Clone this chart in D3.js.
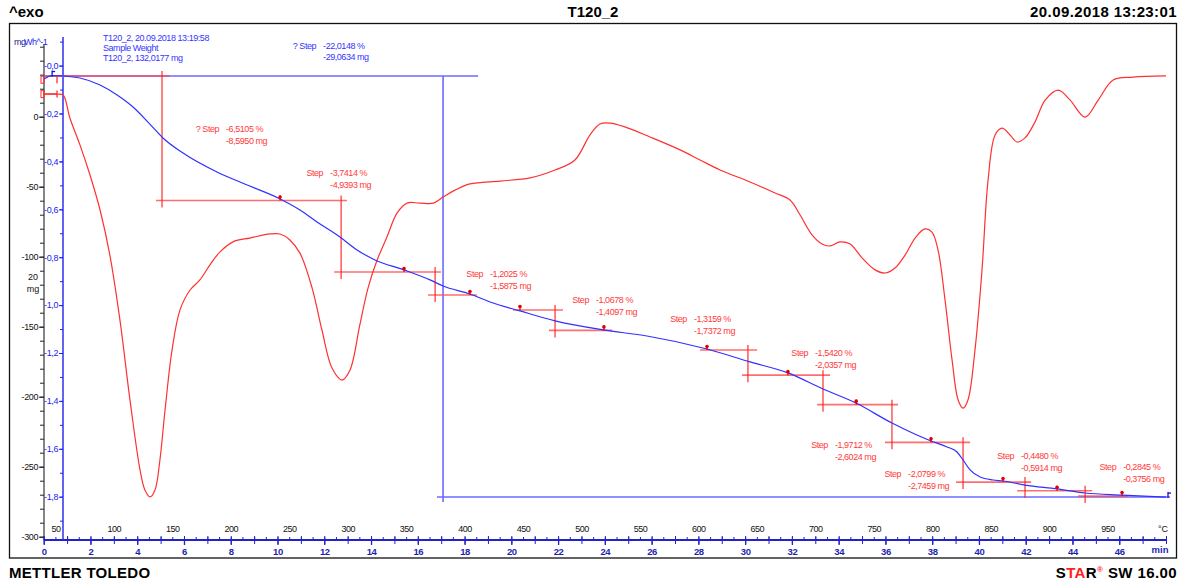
<!DOCTYPE html>
<html>
<head>
<meta charset="utf-8">
<script src="https://cdn.jsdelivr.net/npm/d3@7"></script>
<style>
  body { margin: 0; background: #fff; }
  svg text { font-family: "Liberation Sans Narrow", "Liberation Sans", Arial, sans-serif; }
  .hdr { font-family: "Liberation Sans", Arial, sans-serif !important; font-weight: bold; font-size: 15px; }
</style>
</head>
<body>
<svg id="chart" width="1185" height="585"></svg>
<script>
// ---- TGA curve: time (min) vs sample mass (mg)
const tgaTime = [0, 0.36, 0.83, 1.55, 2.41, 3.14, 3.82, 4.54, 5.10, 5.96, 7.41, 8.82, 10.11, 10.96, 11.69,
  12.67, 13.40, 14.17, 15.41, 16.52, 17.08, 18.23, 19.09, 20.37, 21.87, 23.92, 25.80, 28.37, 30.21, 31.83,
  33.33, 34.74, 36.28, 37.95, 38.64, 39.06, 39.32, 39.62, 40.05, 40.60, 41.03, 41.97, 43.34, 44.54, 46.12, 48.0];
const tgaMass = [131.81, 132.05, 132.02, 131.88, 131.40, 130.71, 129.88, 128.70, 127.74, 126.70, 125.39, 124.42,
  123.53, 122.77, 121.94, 120.90, 120.01, 119.32, 118.63, 117.94, 117.52, 116.97, 116.42, 115.80, 115.11, 114.49,
  114.07, 113.17, 112.28, 111.52, 110.41, 109.44, 108.06, 106.82, 106.41, 106.06, 105.51, 104.82, 104.33, 104.13,
  104.06, 103.78, 103.51, 103.23, 103.09, 102.95];

// ---- DSC curve: time (min) vs heat flow (W/g)
const dscTime = [0, 0.57, 0.83, 1.12, 1.55, 1.98, 2.41, 2.83, 3.26, 3.69, 4.12, 4.33, 4.55, 4.76, 4.97, 5.19,
  5.49, 5.83, 6.26, 6.68, 7.11, 7.54, 8.18, 8.82, 9.68, 10.11, 10.53, 10.96, 11.48, 11.90, 12.33, 12.76, 13.10,
  13.52, 13.87, 14.26, 14.68, 15.11, 15.54, 16.09, 16.67, 17.08, 17.59, 18.23, 19.52, 20.80, 21.87, 22.72, 23.36,
  23.79, 24.22, 24.86, 25.93, 27.22, 28.07, 28.93, 30.21, 31.28, 31.92, 32.35, 32.86, 33.29, 33.63, 34.06, 34.49,
  35.00, 35.56, 35.98, 36.41, 36.84, 37.27, 37.69, 37.99, 38.25, 38.55, 38.85, 39.11, 39.32, 39.53, 39.83, 40.13,
  40.39, 40.69, 40.99, 41.33, 41.63, 41.97, 42.40, 42.83, 43.39, 43.90, 44.54, 45.10, 45.74, 46.59, 48.0];
const dscHeatFlow = [-0.119, -0.119, -0.123, -0.219, -0.331, -0.457, -0.603, -0.791, -1.062, -1.396, -1.688,
  -1.772, -1.801, -1.772, -1.647, -1.438, -1.187, -1.020, -0.937, -0.895, -0.832, -0.778, -0.732, -0.720, -0.703,
  -0.703, -0.728, -0.783, -0.929, -1.104, -1.263, -1.313, -1.271, -1.083, -0.929, -0.812, -0.716, -0.616, -0.574,
  -0.574, -0.574, -0.549, -0.520, -0.494, -0.482, -0.469, -0.436, -0.394, -0.290, -0.244, -0.240, -0.256, -0.298,
  -0.352, -0.394, -0.436, -0.486, -0.532, -0.561, -0.624, -0.707, -0.745, -0.753, -0.736, -0.745, -0.803, -0.853,
  -0.866, -0.845, -0.791, -0.720, -0.682, -0.695, -0.770, -0.979, -1.229, -1.396, -1.430, -1.396, -1.188, -0.854,
  -0.478, -0.290, -0.261, -0.290, -0.319, -0.302, -0.235, -0.144, -0.102, -0.144, -0.215, -0.144, -0.060, -0.048, -0.043];

// ---- step evaluations on the TGA curve
const stepPercent = ["-6,5105 %", "-3,7414 %", "-1,2025 %", "-1,0678 %", "-1,3159 %", "-1,5420 %", "-1,9712 %", "-2,0799 %", "-0,4480 %", "-0,2845 %"];
const stepMgText  = ["-8,5950 mg", "-4,9393 mg", "-1,5875 mg", "-1,4097 mg", "-1,7372 mg", "-2,0357 mg", "-2,6024 mg", "-2,7459 mg", "-0,5914 mg", "-0,3756 mg"];
const stepName    = ["? Step", "Step", "Step", "Step", "Step", "Step", "Step", "Step", "Step", "Step"];
const stepLossMg  = [8.5950, 4.9393, 1.5875, 1.4097, 1.7372, 2.0357, 2.6024, 2.7459, 0.5914, 0.3756];
const stepLevelMg = [132.0177, 123.4227, 118.4834, 115.864, 113.103, 111.3658, 109.3301, 106.7277, 103.9818, 103.3904];
const stepMidTime = [5.06, 12.72, 16.74, 21.87, 30.12, 33.33, 36.28, 39.32, 41.97, 44.54];
const stepBeforeSpan = [[0, 5.40], null, null, [20.07, 22.21], [28.07, 30.51], null, null, null, null, null];
const stepAfterSpan  = [[4.80, 12.97], [12.42, 16.99], [16.44, 18.53], [21.61, 24.31], [29.87, 33.63],
  [33.08, 36.54], [35.98, 39.62], [39.02, 42.23], [41.63, 44.84], [44.24, 46.38]];
const stepLabelTime = [7.80, 12.25, 19.09, 23.62, 27.81, 32.99, 33.84, 36.97, 41.80, 46.17];
const stepLabelMass = [128.36, 125.32, 118.35, 116.55, 115.24, 112.90, 106.55, 104.54, 105.79, 105.03];
const markerTime = [10.11, 15.41, 18.23, 20.37, 23.96, 28.37, 31.83, 34.75, 37.95, 41.03, 43.34, 46.12];
const markerMass = [123.4227, 118.4834, 116.8959, 115.864, 114.4543, 113.103, 111.3658, 109.3301, 106.7277, 103.9818, 103.3904, 103.0148];

// ---- overall step (blue)
const totalStep = { start: 132.0177, end: 102.9543, mid: 17.08, upper: [0, 18.58], lower: [16.82, 48.17],
  name: "? Step", percent: "-22,0148 %", mg: "-29,0634 mg", labelTime: 11.95, labelMass: 134.09 };

// ---- axis tick labels
const timeTicks = d3.range(0, 47, 2);
const tempTicks = d3.range(50, 1000, 50);
const mgTicks = d3.range(0, -301, -50);
const wgTicks = d3.range(0, -1.81, -0.2).map(v => +v.toFixed(1));

const RED = "#ff2a2a", BLUE = "#3030ff", LBLUE = "#6b6bff";
const svg = d3.select("#chart");

// scales
const x = d3.scaleLinear().domain([0, 48]).range([43.7, 1166]);
const xTemp = d3.scaleLinear().domain([40, 1000]).range(x.range());
const yMass = d3.scaleLinear().domain([132.0177, 102.9543]).range([76, 497]);
const yDsc = d3.scaleLinear().domain([0, -1.8]).range([65.6, 496.7]);
const yMg = d3.scaleLinear().domain([0, -300]).range([116.7, 536.7]);
const AXY = 540;

// header and footer
svg.append("text").attr("class", "hdr").attr("x", 9).attr("y", 17).text("^exo");
svg.append("text").attr("class", "hdr").attr("x", 593).attr("y", 17).attr("text-anchor", "middle").text("T120_2");
svg.append("text").attr("class", "hdr").attr("x", 1177).attr("y", 17).attr("text-anchor", "end").attr("letter-spacing", "0.4").text("20.09.2018 13:23:01");
svg.append("text").attr("class", "hdr").attr("x", 9).attr("y", 578).attr("letter-spacing", "0.3").text("METTLER TOLEDO");
const star = svg.append("text").attr("class", "hdr").attr("x", 1177).attr("y", 578).attr("text-anchor", "end").attr("letter-spacing", "0.4");
star.append("tspan").text("S");
star.append("tspan").attr("fill", "#ff2020").text("TA");
star.append("tspan").text("R");
star.append("tspan").attr("fill", "#ff2020").attr("font-size", "8px").attr("dy", "-6").text("®");
star.append("tspan").attr("dy", "6").text(" SW 16.00");

// frame
svg.append("rect").attr("x", 9.5).attr("y", 23.5).attr("width", 1167).attr("height", 534.5)
  .attr("fill", "none").attr("stroke", "#111").attr("stroke-width", 1.3);

// draws one axis call into its own group
function axisGroup(tx, ty, axis, color) {
  const g = svg.append("g").attr("transform", `translate(${tx},${ty})`).call(axis);
  g.selectAll("line").attr("stroke", color);
  g.select(".domain").remove();
  return g;
}

// black mg axis
svg.append("line").attr("x1", 44).attr("x2", 44).attr("y1", 44).attr("y2", AXY).attr("stroke", "#222").attr("stroke-width", 1.1);
axisGroup(44, 0, d3.axisLeft(yMg).tickValues(d3.range(50, -301, -10)).tickSize(4).tickFormat(""), "#222");
const gMg = axisGroup(44, 0, d3.axisLeft(yMg).tickValues(mgTicks).tickSize(5).tickPadding(1).tickFormat(d => String(d)), "#222");
gMg.selectAll("text").attr("font-size", 9).attr("fill", "#111").attr("letter-spacing", "-0.4");
svg.append("text").attr("x", 33).attr("y", 280).attr("text-anchor", "middle").attr("font-size", 9).attr("fill", "#111").text("20");
svg.append("text").attr("x", 33).attr("y", 292).attr("text-anchor", "middle").attr("font-size", 9).attr("fill", "#111").text("mg");

// blue W/g axis
svg.append("line").attr("x1", 63).attr("x2", 63).attr("y1", 37).attr("y2", AXY).attr("stroke", "#2222ee").attr("stroke-width", 1.4);
axisGroup(63, 0, d3.axisLeft(yDsc).tickValues(d3.range(0.1, -1.91, -0.1).map(v => +v.toFixed(1))).tickSize(3).tickFormat(""), "#2222ee");
const gW = axisGroup(63, 0, d3.axisLeft(yDsc).tickValues(wgTicks).tickSize(4).tickPadding(1)
  .tickFormat(d => "-" + Math.abs(d).toFixed(1).replace(".", ",")), "#2222ee");
gW.selectAll("text").attr("font-size", 9).attr("fill", "#2222ee").attr("letter-spacing", "-0.4");
svg.append("text").attr("x", 14).attr("y", 45).attr("font-size", 9).attr("fill", "#20209a").attr("letter-spacing", "-0.5").text("mg");
svg.append("text").attr("x", 24).attr("y", 45).attr("font-size", 9).attr("fill", "#2a2aee").attr("letter-spacing", "-0.5").text("Wh^-1");

// time axis with temperature labels above
svg.append("line").attr("x1", x(0)).attr("x2", x(48)).attr("y1", AXY).attr("y2", AXY).attr("stroke", "#2323c8").attr("stroke-width", 2);
axisGroup(0, AXY, d3.axisTop(x).tickValues(d3.range(0, 48.01, 0.5)).tickSize(3).tickFormat(""), "#2323c8");
axisGroup(0, AXY, d3.axisTop(x).tickValues(d3.range(0, 48.01, 1)).tickSize(4).tickFormat(""), "#2323c8");
axisGroup(0, AXY, d3.axisBottom(x).tickValues(d3.range(0, 48.01, 1)).tickSize(4).tickFormat(""), "#2323c8");
const gX = axisGroup(0, AXY, d3.axisBottom(x).tickValues(timeTicks).tickSize(5).tickPadding(3).tickFormat(d => d), "#2323c8");
gX.selectAll("line").attr("stroke-width", 1.3);
gX.selectAll("text").attr("font-size", 9.5).attr("font-weight", "bold").attr("fill", "#1f1fb0").attr("letter-spacing", "-0.4");
const gTemp = svg.append("g").attr("transform", `translate(0,${AXY})`)
  .call(d3.axisTop(xTemp).tickValues(tempTicks).tickSize(0).tickPadding(8).tickFormat(d => d));
gTemp.select(".domain").remove();
gTemp.selectAll("text").attr("font-size", 9).attr("fill", "#111").attr("letter-spacing", "-0.5");
svg.append("text").attr("x", 1163).attr("y", 532).attr("text-anchor", "middle").attr("font-size", 9).attr("fill", "#111").text("°C");
svg.append("text").attr("x", 1160).attr("y", 553).attr("text-anchor", "middle").attr("font-size", 9.5).attr("font-weight", "bold").attr("fill", "#1f1fb0").text("min");

// overall step construction (blue)
const gTot = svg.append("g").attr("stroke", LBLUE).attr("stroke-width", 1.6).attr("fill", "none");
gTot.append("line").attr("x1", x(totalStep.upper[0])).attr("x2", x(totalStep.upper[1]))
  .attr("y1", yMass(totalStep.start)).attr("y2", yMass(totalStep.start));
gTot.append("line").attr("x1", x(totalStep.lower[0])).attr("x2", x(totalStep.lower[1]))
  .attr("y1", yMass(totalStep.end)).attr("y2", yMass(totalStep.end));
gTot.append("line").attr("x1", x(totalStep.mid)).attr("x2", x(totalStep.mid))
  .attr("y1", yMass(totalStep.start)).attr("y2", yMass(totalStep.end) + 5);

// step constructions (red)
const gSteps = svg.append("g");
stepLossMg.forEach((loss, i) => {
  const before = stepLevelMg[i], after = before - loss;
  const hl = (span, m) => gSteps.append("line").attr("x1", x(span[0])).attr("x2", x(span[1]))
    .attr("y1", yMass(m)).attr("y2", yMass(m)).attr("stroke", "#ff4a4a").attr("stroke-width", 1.6).attr("stroke-opacity", 0.8);
  if (stepBeforeSpan[i]) hl(stepBeforeSpan[i], before);
  hl(stepAfterSpan[i], after);
  gSteps.append("line").attr("x1", x(stepMidTime[i])).attr("x2", x(stepMidTime[i]))
    .attr("y1", yMass(before) - 5).attr("y2", yMass(after) + 7).attr("stroke", "#ff1a1a").attr("stroke-width", 1.1);
});

// DSC curve
const lineDsc = d3.line().x((d, i) => x(dscTime[i])).y(d => yDsc(d)).curve(d3.curveCatmullRom.alpha(0.5));
svg.append("path").attr("d", lineDsc(dscHeatFlow)).attr("fill", "none").attr("stroke", "#ff3030").attr("stroke-width", 1.2);
// DSC start segment
svg.append("line").attr("x1", x(0)).attr("x2", x(0.57)).attr("y1", yDsc(-0.119)).attr("y2", yDsc(-0.119)).attr("stroke", RED).attr("stroke-width", 1.2);

// TGA curve
const lineTga = d3.line().x((d, i) => x(tgaTime[i])).y(d => yMass(d)).curve(d3.curveMonotoneX);
svg.append("path").attr("d", lineTga(tgaMass)).attr("fill", "none").attr("stroke", BLUE).attr("stroke-width", 1.2);

// small range markers at curve starts
[yMass(131.76), yDsc(-0.119)].forEach(yy => {
  svg.append("rect").attr("x", 41).attr("y", yy - 3.5).attr("width", 3).attr("height", 7).attr("fill", "none").attr("stroke", RED).attr("stroke-width", 1);
  svg.append("line").attr("x1", x(0.57)).attr("x2", x(0.57)).attr("y1", yy - 3.5).attr("y2", yy + 3.5).attr("stroke", RED).attr("stroke-width", 1.3);
});
// blue pins at TGA start and end
const pin = (px, py, col) => {
  svg.append("line").attr("x1", px).attr("x2", px).attr("y1", py).attr("y2", py - 6).attr("stroke", col).attr("stroke-width", 1.3);
  svg.append("line").attr("x1", px).attr("x2", px + 3).attr("y1", py - 5).attr("y2", py - 5).attr("stroke", col).attr("stroke-width", 1.3);
};
pin(x(0.36), yMass(132.05) + 1, "#1010cc");
pin(x(48.0) + 2, yMass(102.95) + 1, "#1010cc");

// step markers on the TGA curve
markerTime.forEach((t, i) => {
  const px = x(t), py = yMass(markerMass[i]);
  svg.append("line").attr("x1", px).attr("x2", px).attr("y1", py).attr("y2", py - 5).attr("stroke", "#e00000").attr("stroke-width", 1.2);
  svg.append("circle").attr("cx", px).attr("cy", py - 3.5).attr("r", 1.8).attr("fill", "#e00000");
});

// step labels
const gLab = svg.append("g").attr("font-size", 9).attr("fill", "#ff3a3a").attr("letter-spacing", "-0.45");
stepPercent.forEach((p, i) => {
  const lx = x(stepLabelTime[i]), ly = yMass(stepLabelMass[i]);
  gLab.append("text").attr("x", lx - 7).attr("y", ly).attr("dy", "0.35em").attr("text-anchor", "end").text(stepName[i]);
  gLab.append("text").attr("x", lx).attr("y", ly).attr("dy", "0.35em").text(p);
  gLab.append("text").attr("x", lx).attr("y", ly + 11.5).attr("dy", "0.35em").text(stepMgText[i]);
});

// overall step label and sample info (blue)
const gInfo = svg.append("g").attr("font-size", 9).attr("fill", "#3535ff").attr("letter-spacing", "-0.45");
const tx = x(totalStep.labelTime), ty = yMass(totalStep.labelMass);
gInfo.append("text").attr("x", tx - 7).attr("y", ty).attr("dy", "0.35em").attr("text-anchor", "end").text(totalStep.name);
gInfo.append("text").attr("x", tx).attr("y", ty).attr("dy", "0.35em").text(totalStep.percent);
gInfo.append("text").attr("x", tx).attr("y", ty + 11).attr("dy", "0.35em").text(totalStep.mg);
gInfo.append("text").attr("x", 103).attr("y", 38).attr("dy", "0.35em").text("T120_2, 20.09.2018 13:19:58");
gInfo.append("text").attr("x", 103).attr("y", 48).attr("dy", "0.35em").text("Sample Weight");
gInfo.append("text").attr("x", 103).attr("y", 58).attr("dy", "0.35em").text("T120_2, 132,0177 mg");
</script>
</body>
</html>
